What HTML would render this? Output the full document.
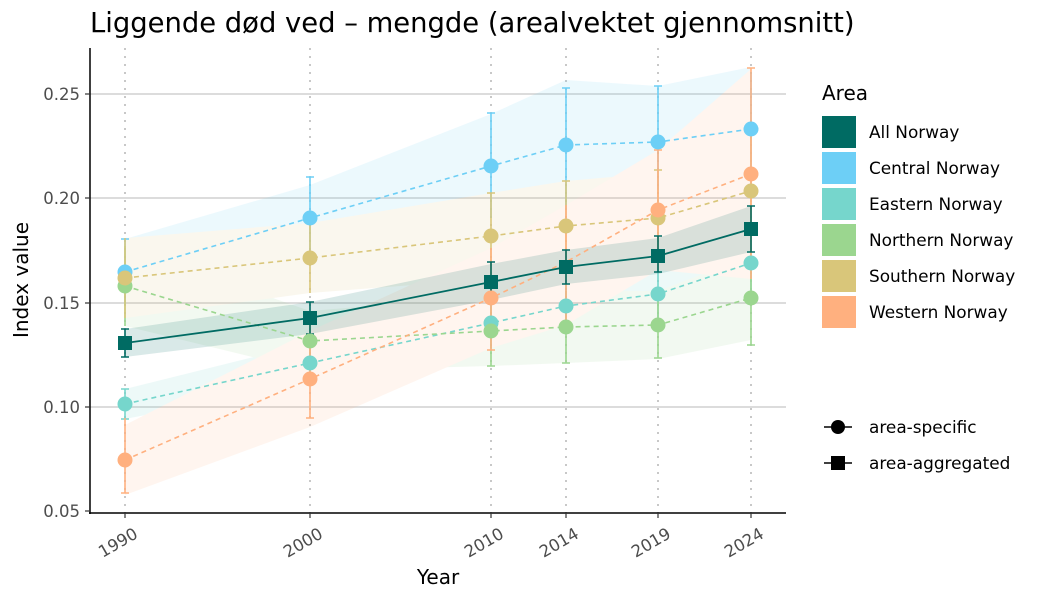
<!DOCTYPE html>
<html><head><meta charset="utf-8"><style>
body{margin:0;background:#fff;}
svg text{font-family:"DejaVu Sans","Liberation Sans",sans-serif;}
</style></head><body>
<svg width="1050" height="600" viewBox="0 0 1050 600" xmlns="http://www.w3.org/2000/svg">
<rect width="1050" height="600" fill="#fff"/>
<text x="90" y="32" font-size="27.4" fill="#000">Liggende død ved – mengde (arealvektet gjennomsnitt)</text>
<!-- grid -->
<g stroke="#d0d0d0" stroke-width="1.5">
<line x1="90" x2="786" y1="94" y2="94"/><line x1="90" x2="786" y1="198" y2="198"/>
<line x1="90" x2="786" y1="303" y2="303"/><line x1="90" x2="786" y1="407" y2="407"/>
</g>
<g stroke="#c8c8c8" stroke-width="2" stroke-dasharray="2,6">
<line x1="125" x2="125" y1="48" y2="513"/><line x1="310" x2="310" y1="48" y2="513"/>
<line x1="491" x2="491" y1="48" y2="513"/><line x1="566" x2="566" y1="48" y2="513"/>
<line x1="658" x2="658" y1="48" y2="513"/><line x1="751" x2="751" y1="48" y2="513"/>
</g>
<!-- ribbons -->
<g opacity="0.12">
<polygon fill="#6dcff6" points="125,239 310,185 491,114 566,80 658,86 751,67 751,191 658,198 566,210 491,218 310,251 125,305"/>
<polygon fill="#76d6cc" points="125,389 310,343 491,298 566,281 658,264 751,228 751,298 658,324 566,331 491,348 310,383 125,419"/>
<polygon fill="#9bd68f" points="125,246 310,311 491,296 566,291 658,291 751,256 751,340 658,359 566,363 491,366 310,371 125,326"/>
<polygon fill="#d9c67a" points="125,238 310,223 491,193 566,181 658,173 751,126 751,256 658,263 566,271 491,279 310,293 125,318"/>
<polygon fill="#ffb07f" points="125,425 310,331 491,248 566,205 658,150 751,69 751,279 658,270 566,325 491,348 310,427 125,495"/>
</g>
<polygon fill="#006b63" opacity="0.15" points="125,329 310,302 491,264 566,250 658,238 751,206 751,252 658,274 566,284 491,300 310,334 125,357"/>
<!-- error bars -->
<g stroke-width="1.6" fill="none">
<path stroke="#6dcff6" d="M125,239V305M121,239h8M310,177V251M306,177h8M491,113V218M487,113h8M566,88V210M562,88h8M658,86V190M654,86h8M751,72V191"/>
<path stroke="#76d6cc" d="M125,389V419M121,389h8M121,419h8M310,343V383M491,298V348M566,281V331M658,264V324M751,228V298"/>
<path stroke="#9bd68f" d="M125,246V326M310,311V371M491,296V366M487,366h8M566,291V363M562,363h8M658,291V358M654,358h8M751,256V345M747,345h8"/>
<path stroke="#d9c67a" d="M125,238V318M310,223V293M491,193V279M487,193h8M566,181V271M562,181h8M658,170V263M654,170h8M751,125V256M747,125h8"/>
<path stroke="#ffb07f" d="M125,418V493M121,493h8M310,320V418M306,418h8M491,248V350M487,350h8M566,205V325M658,150V270M654,150h8M751,68V279M747,68h8"/>
<path stroke="#006b63" d="M125,329V357M121,329h8M121,357h8M310,302V334M306,302h8M306,334h8M491,262V300M487,262h8M487,300h8M566,250V284M562,250h8M562,284h8M658,236V272M654,236h8M654,272h8M751,206V252M747,206h8M747,252h8"/>
</g>
<!-- lines -->
<g fill="none" stroke-width="1.6" stroke-dasharray="5,4">
<polyline stroke="#6dcff6" points="125,272 310,218 491,166 566,145 658,142 751,129"/>
<polyline stroke="#76d6cc" points="125,404 310,363 491,323 566,306 658,294 751,263"/>
<polyline stroke="#9bd68f" points="125,286 310,341 491,331 566,327 658,325 751,298"/>
<polyline stroke="#d9c67a" points="125,278 310,258 491,236 566,226 658,218 751,191"/>
<polyline stroke="#ffb07f" points="125,460 310,379 491,298 566,262 658,210 751,174"/>
</g>
<polyline fill="none" stroke="#006b63" stroke-width="1.8" points="125,343 310,318 491,282 566,267 658,256 751,229"/>
<!-- points -->
<g>
<g fill="#6dcff6"><circle cx="125" cy="272" r="7.5"/><circle cx="310" cy="218" r="7.5"/><circle cx="491" cy="166" r="7.5"/><circle cx="566" cy="145" r="7.5"/><circle cx="658" cy="142" r="7.5"/><circle cx="751" cy="129" r="7.5"/></g>
<g fill="#76d6cc"><circle cx="125" cy="404" r="7.5"/><circle cx="310" cy="363" r="7.5"/><circle cx="491" cy="323" r="7.5"/><circle cx="566" cy="306" r="7.5"/><circle cx="658" cy="294" r="7.5"/><circle cx="751" cy="263" r="7.5"/></g>
<g fill="#9bd68f"><circle cx="125" cy="286" r="7.5"/><circle cx="310" cy="341" r="7.5"/><circle cx="491" cy="331" r="7.5"/><circle cx="566" cy="327" r="7.5"/><circle cx="658" cy="325" r="7.5"/><circle cx="751" cy="298" r="7.5"/></g>
<g fill="#d9c67a"><circle cx="125" cy="278" r="7.5"/><circle cx="310" cy="258" r="7.5"/><circle cx="491" cy="236" r="7.5"/><circle cx="566" cy="226" r="7.5"/><circle cx="658" cy="218" r="7.5"/><circle cx="751" cy="191" r="7.5"/></g>
<g fill="#ffb07f"><circle cx="125" cy="460" r="7.5"/><circle cx="310" cy="379" r="7.5"/><circle cx="491" cy="298" r="7.5"/><circle cx="658" cy="210" r="7.5"/><circle cx="751" cy="174" r="7.5"/></g>
<g fill="#006b63"><rect x="118" y="336" width="14" height="14"/><rect x="303" y="311" width="14" height="14"/><rect x="484" y="275" width="14" height="14"/><rect x="559" y="260" width="14" height="14"/><rect x="651" y="249" width="14" height="14"/><rect x="744" y="222" width="14" height="14"/></g>
</g>
<!-- axes -->
<line x1="90" x2="90" y1="48" y2="514" stroke="#000" stroke-width="1.5"/>
<line x1="89" x2="786" y1="513" y2="513" stroke="#000" stroke-width="1.5"/>
<g stroke="#333" stroke-width="1.2">
<line x1="85" x2="90" y1="94" y2="94"/><line x1="85" x2="90" y1="198" y2="198"/><line x1="85" x2="90" y1="303" y2="303"/><line x1="85" x2="90" y1="407" y2="407"/><line x1="85" x2="90" y1="511" y2="511"/>
<line x1="125" x2="125" y1="513" y2="518"/><line x1="310" x2="310" y1="513" y2="518"/><line x1="491" x2="491" y1="513" y2="518"/><line x1="566" x2="566" y1="513" y2="518"/><line x1="658" x2="658" y1="513" y2="518"/><line x1="751" x2="751" y1="513" y2="518"/>
</g>
<g font-size="16.5" fill="#4d4d4d" text-anchor="end">
<text x="80" y="100">0.25</text><text x="80" y="204">0.20</text><text x="80" y="309">0.15</text><text x="80" y="413">0.10</text><text x="80" y="517">0.05</text>
</g>
<g font-size="16.5" fill="#4d4d4d" text-anchor="end">
<text transform="translate(139,537) rotate(-30)">1990</text>
<text transform="translate(324,537) rotate(-30)">2000</text>
<text transform="translate(505,537) rotate(-30)">2010</text>
<text transform="translate(580,537) rotate(-30)">2014</text>
<text transform="translate(672,537) rotate(-30)">2019</text>
<text transform="translate(765,537) rotate(-30)">2024</text>
</g>
<text x="438" y="584" font-size="20" text-anchor="middle">Year</text>
<text transform="translate(28,280) rotate(-90)" font-size="20" text-anchor="middle">Index value</text>
<!-- legend -->
<text x="822" y="100" font-size="20">Area</text>
<rect x="822" y="116" width="34" height="32" fill="#006b63"/>
<rect x="822" y="152" width="34" height="32" fill="#6dcff6"/>
<rect x="822" y="188" width="34" height="32" fill="#76d6cc"/>
<rect x="822" y="224" width="34" height="32" fill="#9bd68f"/>
<rect x="822" y="260" width="34" height="32" fill="#d9c67a"/>
<rect x="822" y="296" width="34" height="32" fill="#ffb07f"/>
<g font-size="16.9" fill="#000">
<text x="869" y="138">All Norway</text><text x="869" y="174">Central Norway</text><text x="869" y="210">Eastern Norway</text>
<text x="869" y="246">Northern Norway</text><text x="869" y="282">Southern Norway</text><text x="869" y="318">Western Norway</text>
<text x="869" y="433">area-specific</text><text x="869" y="469">area-aggregated</text>
</g>
<line x1="824" x2="852" y1="427" y2="427" stroke="#000" stroke-width="1.6"/>
<circle cx="838" cy="427" r="7" fill="#000"/>
<line x1="824" x2="852" y1="463" y2="463" stroke="#000" stroke-width="1.6"/>
<rect x="831" y="456" width="14" height="14" fill="#000"/>
</svg>
</body></html>
